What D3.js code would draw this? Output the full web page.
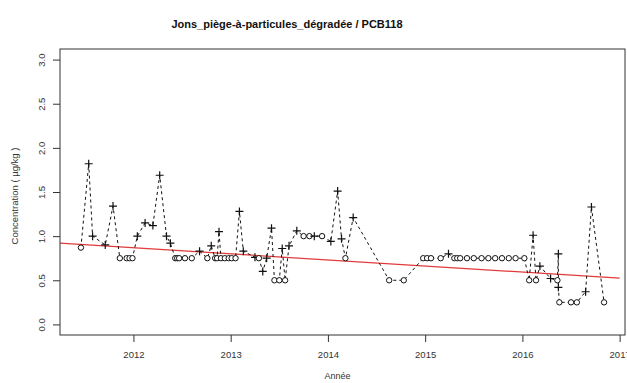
<!DOCTYPE html>
<html>
<head>
<meta charset="utf-8">
<script src="https://cdn.jsdelivr.net/npm/d3@7"></script>
<style>
  html, body { margin: 0; padding: 0; background: #fff; }
  svg { display: block; font-family: "Liberation Sans", Arial, Helvetica, sans-serif; }
</style>
</head>
<body>
<svg id="chart" width="627" height="383"></svg>
<script>
// ---- Data ----
const titleText = "Jons_piège-à-particules_dégradée / PCB118";
const xLabel = "Année";
const yLabel = "Concentration ( µg/kg )";

// sampling dates as decimal years
const years = [
  2011.46, 2011.54, 2011.58, 2011.71, 2011.79, 2011.86, 2011.93, 2011.96, 2011.99, 2012.04,
  2012.12, 2012.20, 2012.27, 2012.34, 2012.38, 2012.43, 2012.45, 2012.47, 2012.53, 2012.60,
  2012.68, 2012.76, 2012.80, 2012.84, 2012.86, 2012.88, 2012.90, 2012.94, 2012.98, 2013.01,
  2013.05, 2013.09, 2013.13, 2013.25, 2013.29, 2013.33, 2013.37, 2013.42, 2013.45, 2013.50,
  2013.53, 2013.56, 2013.60, 2013.68, 2013.75, 2013.81, 2013.86, 2013.94, 2014.03, 2014.10,
  2014.14, 2014.18, 2014.26, 2014.63, 2014.78, 2014.98, 2015.02, 2015.06, 2015.16, 2015.24,
  2015.30, 2015.33, 2015.36, 2015.43, 2015.50, 2015.58, 2015.65, 2015.72, 2015.79, 2015.86,
  2015.93, 2016.02, 2016.07, 2016.11, 2016.14, 2016.18, 2016.29, 2016.36, 2016.37, 2016.37,
  2016.38, 2016.50, 2016.56, 2016.65, 2016.71, 2016.84
];
// concentrations (µg/kg)
const values = [
  0.87, 1.82, 1.00, 0.90, 1.34, 0.75, 0.75, 0.75, 0.75, 1.00,
  1.15, 1.12, 1.69, 1.00, 0.92, 0.75, 0.75, 0.75, 0.75, 0.75,
  0.83, 0.75, 0.89, 0.75, 0.75, 1.05, 0.75, 0.75, 0.75, 0.75,
  0.75, 1.28, 0.83, 0.76, 0.75, 0.60, 0.75, 1.09, 0.50, 0.50,
  0.86, 0.50, 0.89, 1.06, 1.00, 1.00, 1.00, 1.00, 0.94, 1.51,
  0.97, 0.75, 1.21, 0.50, 0.50, 0.75, 0.75, 0.75, 0.75, 0.80,
  0.75, 0.75, 0.75, 0.75, 0.75, 0.75, 0.75, 0.75, 0.75, 0.75,
  0.75, 0.75, 0.50, 1.01, 0.50, 0.66, 0.52, 0.50, 0.80, 0.42,
  0.25, 0.25, 0.25, 0.37, 1.33, 0.25
];
// "o" = below quantification limit, "+" = quantified
const flags = [
  "o","+","+","+","+","o","o","o","o","+",
  "+","+","+","+","+","o","o","o","o","o",
  "+","o","+","o","o","+","o","o","o","o",
  "o","+","+","+","o","+","+","+","o","o",
  "+","o","+","+","o","o","+","o","+","+",
  "+","o","+","o","o","o","o","o","o","+",
  "o","o","o","o","o","o","o","o","o","o",
  "o","o","o","+","o","+","+","o","+","+",
  "o","o","o","+","+","o"
];
// trend line (red) endpoints
const trendYears = [2011.0, 2017.0];
const trendValues = [0.937, 0.524];

const xTicks = [2012, 2013, 2014, 2015, 2016, 2017];
const yTicks = [0.0, 0.5, 1.0, 1.5, 2.0, 2.5, 3.0];
const yLimits = [0, 3];

// ---- Layout ----
const W = 627, H = 383;
const plot = { left: 60, right: 625, top: 49, bottom: 335 };

const data = years.map((y, i) => ({ year: y, value: values[i], flag: flags[i] }));

// R-style 4% padding
const xExt = d3.extent(years);
const xPad = (xExt[1] - xExt[0]) * 0.04;
const yPad = (yLimits[1] - yLimits[0]) * 0.04;

const x = d3.scaleLinear().domain([xExt[0] - xPad, xExt[1] + xPad]).range([plot.left, plot.right]);
const y = d3.scaleLinear().domain([yLimits[0] - yPad, yLimits[1] + yPad]).range([plot.bottom, plot.top]);

const svg = d3.select("#chart");

svg.append("defs").append("clipPath").attr("id", "clip")
  .append("rect")
  .attr("x", plot.left).attr("y", plot.top)
  .attr("width", plot.right - plot.left).attr("height", plot.bottom - plot.top);

// Title
svg.append("text")
  .attr("x", 287).attr("y", 28)
  .attr("text-anchor", "middle")
  .attr("font-size", 11).attr("font-weight", "bold")
  .attr("fill", "#111")
  .text(titleText);

// Axes
const xAxis = d3.axisBottom(x).tickValues(xTicks).tickFormat(d3.format("d")).tickSize(7).tickPadding(9);
const gx = svg.append("g").attr("transform", `translate(0,${plot.bottom})`).call(xAxis);
gx.select(".domain").remove();
gx.selectAll("line").attr("stroke", "#333");
gx.selectAll("text").attr("font-size", 9.5).attr("fill", "#333")
  .attr("font-family", "'Liberation Sans', Arial, sans-serif");

const yAxis = d3.axisLeft(y).tickValues(yTicks).tickFormat(d3.format(".1f")).tickSize(7);
const gy = svg.append("g").attr("transform", `translate(${plot.left},0)`).call(yAxis);
gy.select(".domain").remove();
gy.selectAll("line").attr("stroke", "#333");
gy.selectAll("text")
  .attr("font-size", 9.5).attr("fill", "#333")
  .attr("font-family", "'Liberation Sans', Arial, sans-serif")
  .attr("text-anchor", "middle")
  .attr("dy", null)
  .attr("x", null)
  .attr("transform", "translate(-18,0) rotate(-90)")
  .attr("y", 0)
  .attr("dominant-baseline", "middle");

// Axis labels
svg.append("text")
  .attr("x", (plot.left + plot.right) / 2 - 5).attr("y", 379)
  .attr("text-anchor", "middle").attr("font-size", 9).attr("fill", "#333")
  .text(xLabel);

svg.append("text")
  .attr("transform", `translate(18,${(plot.top + plot.bottom) / 2 + 4}) rotate(-90)`)
  .attr("text-anchor", "middle").attr("font-size", 9.5).attr("fill", "#333")
  .text(yLabel);

// Plot content
const gPlot = svg.append("g").attr("clip-path", "url(#clip)");

// trend line
gPlot.append("line")
  .attr("x1", x(trendYears[0])).attr("y1", y(trendValues[0]))
  .attr("x2", x(trendYears[1])).attr("y2", y(trendValues[1]))
  .attr("stroke", "#e23a3a").attr("stroke-width", 1.2);

// dashed connecting line
const line = d3.line().x(d => x(d.year)).y(d => y(d.value));
gPlot.append("path")
  .datum(data)
  .attr("d", line)
  .attr("fill", "none")
  .attr("stroke", "#111")
  .attr("stroke-width", 1)
  .attr("stroke-dasharray", "3,3");

// points
const pts = gPlot.selectAll("g.pt").data(data).enter().append("g")
  .attr("class", "pt")
  .attr("transform", d => `translate(${x(d.year)},${y(d.value)})`);

pts.filter(d => d.flag === "o").append("circle")
  .attr("r", 2.7).attr("fill", "#fff").attr("stroke", "#111").attr("stroke-width", 1);

pts.filter(d => d.flag === "+").append("path")
  .attr("d", "M-4,0H4M0,-4V4")
  .attr("stroke", "#111").attr("stroke-width", 1.2).attr("fill", "none");

// frame
svg.append("rect")
  .attr("x", plot.left).attr("y", plot.top)
  .attr("width", plot.right - plot.left).attr("height", plot.bottom - plot.top)
  .attr("fill", "none").attr("stroke", "#333").attr("stroke-width", 1);
</script>
</body>
</html>
